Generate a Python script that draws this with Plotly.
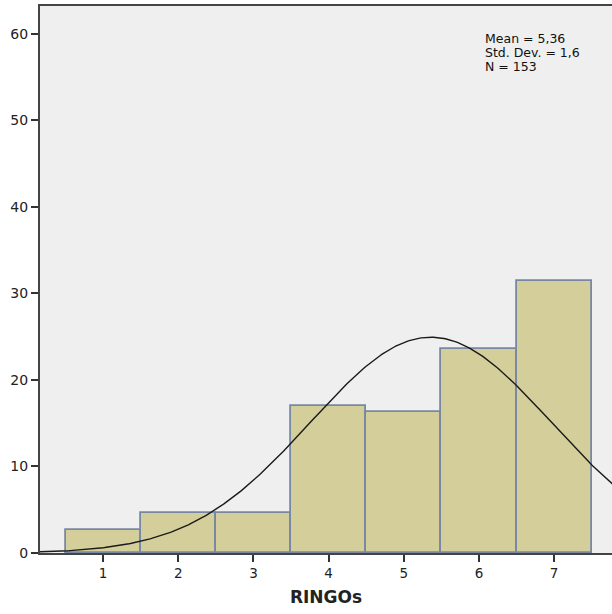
import numpy as np
import plotly.graph_objects as go

# RINGOs score categories and the share of respondents (%) in each
categories = [1, 2, 3, 4, 5, 6, 7]
percent = [2.61, 4.58, 4.58, 16.99, 16.34, 23.53, 31.37]

# Summary statistics shown in the corner
mean_val = 5.36
std_val = 1.6
n_obs = 153

y_ticks = [0, 10, 20, 30, 40, 50, 60]

# Fitted normal curve on the percentage scale (bin width 1)
xs = np.linspace(0.0, 8.0, 400)
ys = 100.0 * np.exp(-0.5 * ((xs - mean_val) / std_val) ** 2) / (std_val * np.sqrt(2 * np.pi))

fig = go.Figure()
fig.add_trace(go.Bar(
    x=categories, y=percent, width=1.0,
    marker=dict(color="#D3CE9A", line=dict(color="#7888A4", width=1.8)),
    hoverinfo="skip",
))
fig.add_trace(go.Scatter(
    x=xs, y=ys, mode="lines",
    line=dict(color="#1a1a1a", width=1.4),
    hoverinfo="skip",
))

stats_lines = [
    "Mean = " + f"{mean_val:.2f}".replace(".", ","),
    "Std. Dev. = " + f"{std_val:.1f}".replace(".", ","),
    f"N = {n_obs}",
]
for i, line in enumerate(stats_lines):
    fig.add_annotation(
        xref="paper", yref="paper", x=0.7745, y=0.9397 - i * 0.0250,
        xanchor="left", yanchor="middle", align="left", showarrow=False,
        text=line,
        font=dict(family="DejaVu Sans", size=12.5, color="#111111"),
    )

fig.update_layout(
    width=612, height=614,
    margin=dict(l=40, r=0, t=6, b=61),
    paper_bgcolor="white", plot_bgcolor="#EFEFEF",
    showlegend=False, bargap=0,
    font=dict(family="DejaVu Sans", color="#222222"),
    xaxis=dict(
        range=[0.16, 7.77], tickmode="array", tickvals=categories,
        ticks="outside", ticklen=7, tickwidth=1.5, tickcolor="#333333",
        showline=True, linecolor="#444444", linewidth=2, mirror=True,
        showgrid=False, zeroline=False,
        tickfont=dict(size=13.5, color="#222222"),
        title=dict(text="<b>RINGOs</b>", font=dict(size=17, color="#222222"), standoff=11),
    ),
    yaxis=dict(
        range=[0, 63.2], tickmode="array", tickvals=y_ticks,
        ticks="outside", ticklen=7, tickwidth=1.5, tickcolor="#333333",
        showline=True, linecolor="#444444", linewidth=2,
        showgrid=False, zeroline=False,
        tickfont=dict(size=14, color="#222222"),
    ),
)

fig.write_html("out.html")
